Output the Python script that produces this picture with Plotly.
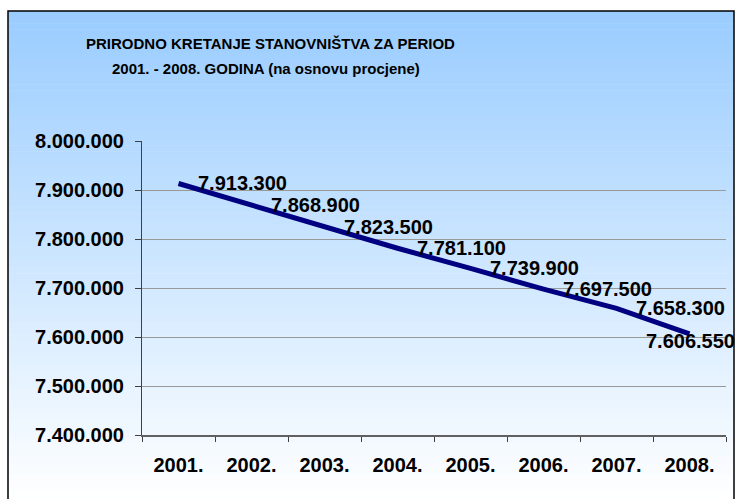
import plotly.graph_objects as go

years = ["2001.", "2002.", "2003.", "2004.", "2005.", "2006.", "2007.", "2008."]
population = [7913300, 7868900, 7823500, 7781100, 7739900, 7697500, 7658300, 7606550]
y_ticks = [7400000, 7500000, 7600000, 7700000, 7800000, 7900000, 8000000]
title_lines = ["PRIRODNO KRETANJE STANOVNIŠTVA ZA PERIOD",
               "2001. - 2008. GODINA (na osnovu procjene)"]


def fmt(v):
    return f"{v:,}".replace(",", ".")


W, H = 739, 499
ML, MR, MT, MB = 142, 13, 141, 64
PW, PH = W - ML - MR, H - MT - MB


def px2x(px):
    return (px - ML) / PW


def py2y(py):
    return (H - MB - py) / PH


FONT = "Liberation Sans, Arial, sans-serif"

fig = go.Figure()
fig.add_trace(go.Scatter(
    x=years, y=population, mode="lines",
    line=dict(color="#000080", width=5),
    hoverinfo="skip", showlegend=False,
))

shapes = []
# gradient background bands
top, bottom = 11, 499
n = 80
c0 = (153, 204, 255)
c1 = (255, 255, 255)
for i in range(n):
    y0p = top + (bottom - top) * i / n
    y1p = top + (bottom - top) * (i + 1) / n + 0.5
    t = (i + 0.5) / n
    col = tuple(round(c0[k] + (c1[k] - c0[k]) * t) for k in range(3))
    shapes.append(dict(type="rect", xref="paper", yref="paper", layer="below",
                       x0=px2x(8), x1=px2x(734), y0=py2y(y1p), y1=py2y(y0p),
                       fillcolor=f"rgb{col}", line=dict(width=0)))
# border
shapes.append(dict(type="rect", xref="paper", yref="paper", layer="above",
                   x0=px2x(8), x1=px2x(734), y0=py2y(530), y1=py2y(11),
                   fillcolor="rgba(0,0,0,0)", line=dict(color="black", width=1.5)))

annotations = []
for i, line in enumerate(title_lines):
    annotations.append(dict(text=line, xref="paper", yref="paper",
                            x=px2x([270, 266][i]), y=py2y([43, 68][i]),
                            xanchor="center", yanchor="middle", showarrow=False,
                            font=dict(family=FONT, size=15, color="black", weight="bold")))
for i, v in enumerate(population):
    # category axis: annotation x given as category index
    if i == len(population) - 1:
        annotations.append(dict(text=fmt(v), x=i, y=v, xref="x", yref="y",
                                xanchor="center", yanchor="middle", showarrow=False,
                                xshift=1, yshift=-7,
                                font=dict(family=FONT, size=20, color="black", weight="bold")))
    else:
        annotations.append(dict(text=fmt(v), x=i, y=v, xref="x", yref="y",
                                xanchor="left", yanchor="middle", showarrow=False,
                                xshift=17,
                                font=dict(family=FONT, size=20, color="black", weight="bold")))

fig.update_layout(
    width=W, height=H,
    margin=dict(l=ML, r=MR, t=MT, b=MB, pad=0),
    paper_bgcolor="white",
    plot_bgcolor="rgba(0,0,0,0)",
    shapes=shapes,
    annotations=annotations,
    showlegend=False,
    hovermode=False,
    xaxis=dict(
        type="category", categoryorder="array", categoryarray=years,
        range=[-0.5, len(years) - 0.5], autorange=False,
        tickson="boundaries", ticks="outside", ticklen=5, tickcolor="#404040",
        showline=True, linecolor="#606060", linewidth=2,
        showgrid=False, zeroline=False, tickangle=0, automargin=False,
        tickfont=dict(family=FONT, size=20, color="black", weight="bold"),
        ticklabelstandoff=11,
    ),
    yaxis=dict(
        range=[7400000, 8000000], autorange=False, tickvals=y_ticks,
        ticktext=[fmt(v) for v in y_ticks],
        ticks="outside", ticklen=6, tickcolor="#404040",
        showline=True, linecolor="#404040", linewidth=1,
        showgrid=True, gridcolor="#999999", gridwidth=1,
        zeroline=False, automargin=False,
        tickfont=dict(family=FONT, size=20, color="black", weight="bold"),
        ticklabelstandoff=7,
    ),
)

fig.write_html("out.html",
               config={"displayModeBar": False},
               post_script="document.body.style.margin='0';document.body.style.overflow='hidden';")
